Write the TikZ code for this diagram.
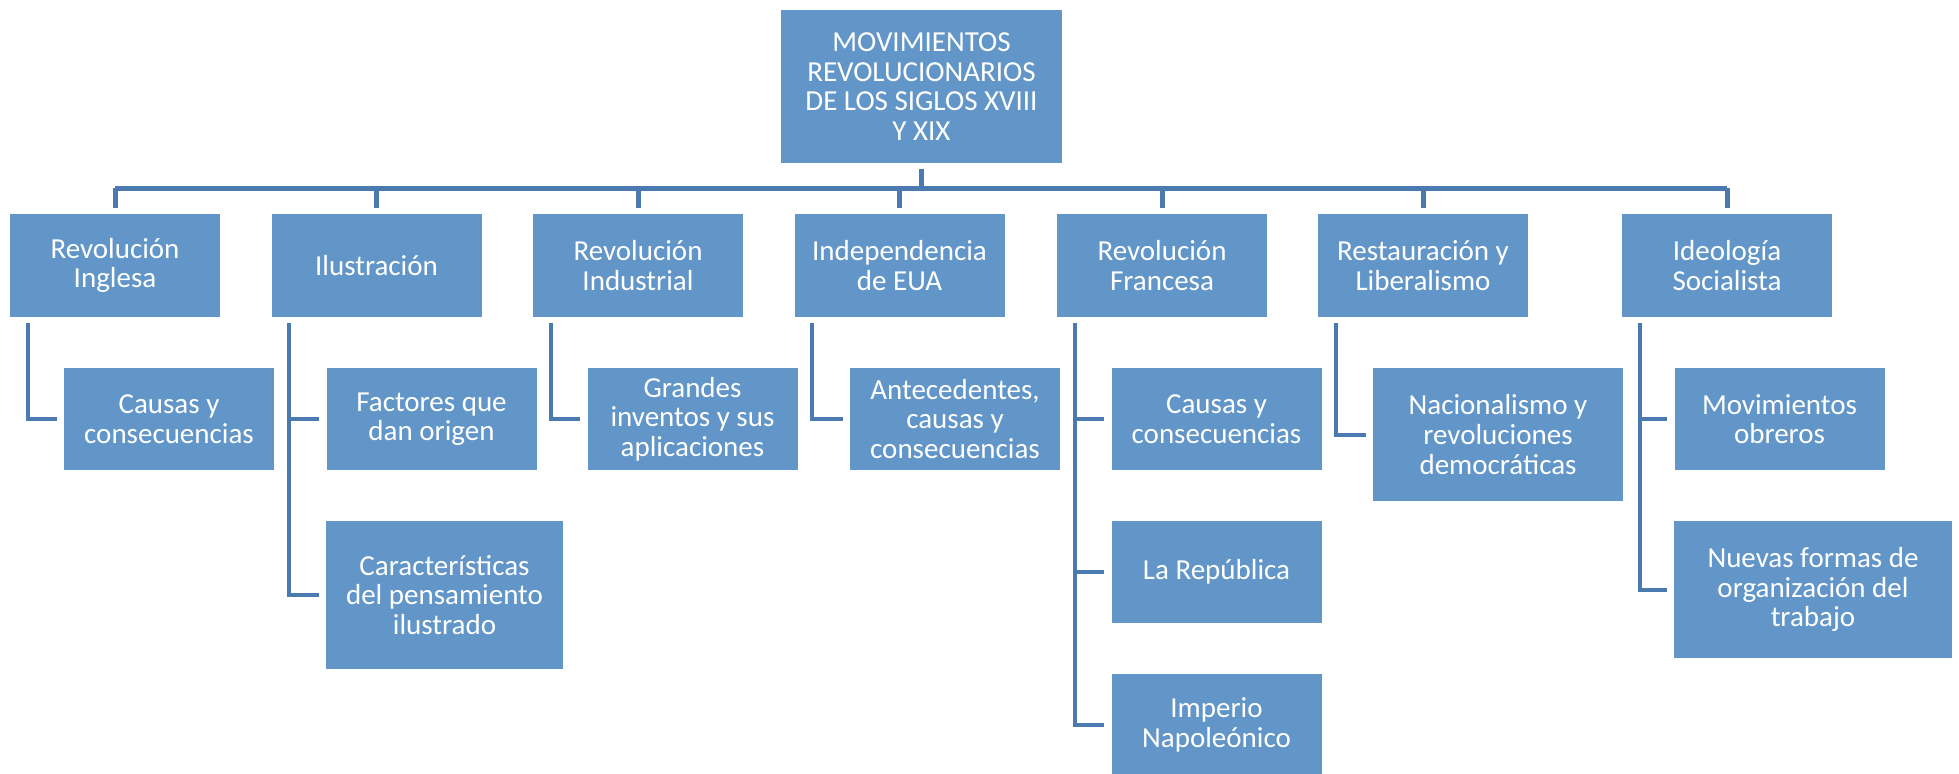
\documentclass[tikz,border=0pt]{standalone}
\usepackage{fontspec}
\setmainfont{Carlito}
\definecolor{boxblue}{RGB}{98,150,201}
\definecolor{lineblue}{RGB}{74,122,176}

\begin{document}
\begin{tikzpicture}[x=0.5pt,y=-0.5pt,
  box/.style={rectangle, fill=boxblue, text=white, align=center, inner sep=2pt,
    minimum width=105pt, minimum height=51pt,
    font=\fontsize{14.5}{14.8}\selectfont},
  bus/.style={draw=lineblue, line width=2.5pt},
  branch/.style={draw=lineblue, line width=2pt}]

  % Fix the page size
  \useasboundingbox (0,0) rectangle (1959,773);

  % Top box
  \node[box, minimum width=140.5pt, minimum height=76.5pt] (top) at (921.5,86.5)
    {MOVIMIENTOS\\REVOLUCIONARIOS\\DE LOS SIGLOS XVIII\\Y XIX};

  % First row
  \node[box, minimum height=51.5pt] (ingl) at (115,265.5) {Revolución\\Inglesa};
  \node[box, minimum height=51.5pt] (ilus) at (376.5,265.5) {Ilustración};
  \node[box, minimum height=51.5pt] (indu) at (638,265.5) {Revolución\\Industrial};
  \node[box, minimum height=51.5pt] (inde) at (899.5,265.5) {Independencia\\de EUA};
  \node[box, minimum height=51.5pt] (fran) at (1162,265.5) {Revolución\\Francesa};
  \node[box, minimum height=51.5pt] (rest) at (1423,265.5) {Restauración y\\Liberalismo};
  \node[box, minimum height=51.5pt] (ideo) at (1727,265.5) {Ideología\\Socialista};

  % Second row
  \node[box] (cin) at (169,419) {Causas y\\consecuencias};
  \node[box] (fac) at (431.5,419) {Factores que\\dan origen};
  \node[box] (gra) at (692.5,419) {Grandes\\inventos y sus\\aplicaciones};
  \node[box] (ant) at (955,419) {Antecedentes,\\causas y\\consecuencias};
  \node[box] (cfr) at (1216.5,419) {Causas y\\consecuencias};
  \node[box, minimum width=125pt, minimum height=66.5pt] (nac) at (1498,434.5)
    {Nacionalismo y\\revoluciones\\democráticas};
  \node[box] (mov) at (1779.5,419) {Movimientos\\obreros};

  % Third and fourth row
  \node[box, minimum width=118.5pt, minimum height=74pt] (car) at (444.5,595)
    {Características\\del pensamiento\\ilustrado};
  \node[box] (rep) at (1216.5,572) {La República};
  \node[box] (imp) at (1216.5,725) {Imperio\\Napoleónico};
  \node[box, minimum width=139pt, minimum height=68.5pt] (nue) at (1813,589.5)
    {Nuevas formas de\\organización del\\trabajo};

  % Bus under the top box
  \coordinate (bus) at (921,188);
  \draw[bus] ([yshift=-3pt]top.south) -- (top.south |- bus);
  \draw[bus] (ingl.north |- bus) -- (ideo.north |- bus);
  \foreach \n in {ingl,ilus,indu,inde,fran,rest,ideo}
    \draw[bus] (\n.north |- bus) -- ([yshift=3pt]\n.north);

  % Branches down to the second level
  \foreach \p/\c in {ingl/cin, ilus/fac, ilus/car, indu/gra, inde/ant,
                     fran/cfr, fran/rep, fran/imp, rest/nac, ideo/mov, ideo/nue}
    \draw[branch] ([xshift=9pt,yshift=-3pt]\p.south west) |- ([xshift=-3.5pt]\c.west);

\end{tikzpicture}
\end{document}
